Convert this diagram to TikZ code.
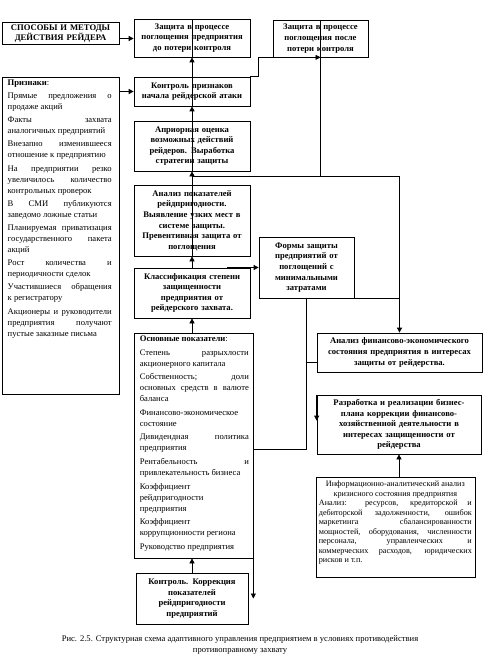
\documentclass[tikz,border=0pt]{standalone}
\usepackage{fontspec}
\setmainfont{Liberation Serif}
\usetikzlibrary{arrows.meta,calc}
\tikzset{
  box/.style={draw, line width=0.7pt, inner sep=2pt, align=center,
    font=\fontsize{8.6}{10.6}\selectfont\bfseries},
  plain/.style={inner sep=0pt, align=justify, font=\fontsize{8.6}{11}\selectfont},
  arr/.style={-{Triangle[width=5pt,length=5pt]}, line width=0.7pt},
  ln/.style={line width=0.7pt}
}
\newcommand\placebox[7][]{%
  \pgfmathsetmacro\bw{#5-#3}\pgfmathsetmacro\bh{#6-#4}%
  \pgfmathsetmacro\bcx{(#3+#5)/2}\pgfmathsetmacro\bcy{(#4+#6)/2}%
  \pgfmathsetmacro\btw{#5-#3-6}%
  \node[box,minimum width=\bw pt,minimum height=\bh pt,text width=\btw pt,#1] (#2) at (\bcx,\bcy) {#7};}
\begin{document}
\begin{tikzpicture}[x=1pt,y=-1pt]
\useasboundingbox[fill=white] (0,0) rectangle (483,666);

\placebox[line width=0.9pt]{b1}{2}{23}{119}{44}{СПОСОБЫ И МЕТОДЫ\\ДЕЙСТВИЯ РЕЙДЕРА}
\placebox{b2}{134}{19}{250}{57}{Защита в процессе\\поглощения предприятия\\до потери контроля}
\placebox{b3}{273}{20}{368}{57}{Защита в процессе\\поглощения после\\потери контроля}
\placebox[line width=0.9pt]{left}{2}{77}{119}{394}{}
\placebox{kp}{134}{77}{250}{106}{Контроль признаков\\начала рейдерской атаки}
\placebox{ap}{134}{121}{250}{171}{Априорная оценка\\возможных действий\\рейдеров. Выработка\\стратегии защиты}
\placebox{an}{134}{185}{250}{256}{Анализ показателей\\рейдпригодности.\\Выявление узких мест в\\системе защиты.\\Превентивная защита от\\поглощения}
\placebox{kl}{134}{268}{250}{318}{Классификация степени\\защищенности\\предприятия от\\рейдерского захвата.}
\placebox{fo}{259}{237}{354}{298}{Формы защиты\\предприятий от\\поглощений с\\минимальными\\затратами}
\placebox{af}{317}{333}{482}{372}{Анализ финансово-экономического\\состояния предприятия в интересах\\защиты от рейдерства.}
\placebox{rz}{317}{395}{481}{454}{Разработка и реализации бизнес-\\плана коррекции финансово-\\хозяйственной деятельности в\\интересах защищенности от\\рейдерства}
\placebox{osn}{134}{333}{253}{558}{}
\placebox{kk}{136}{573}{248}{624}{Контроль. Коррекция\\показателей\\рейдпригодности\\предприятий}
\placebox{inf}{316}{477}{475}{577}{}

\node[plain, anchor=north west, text width=104pt] (lefttxt) at ([xshift=6pt,yshift=-3pt]left.north west) {%
\setlength\parskip{2.2pt}%
\textbf{Признаки}:\par
Прямые предложения о\linebreak продаже акций\par
Факты захвата\linebreak аналогичных предприятий\par
Внезапно изменившееся\linebreak отношение к предприятию\par
На предприятии резко\linebreak увеличилось количество\linebreak контрольных проверок\par
В СМИ публикуются\linebreak заведомо ложные статьи\par
Планируемая приватизация\linebreak государственного пакета\linebreak акций\par
Рост количества и\linebreak периодичности сделок\par
Участившиеся обращения\linebreak к регистратору\par
Акционеры и руководители\linebreak предприятия получают\linebreak пустые заказные письма\par};

\node[plain, anchor=north west, text width=109pt] (osntxt) at ([xshift=6pt,yshift=-3pt]osn.north west) {%
\setlength\parskip{2.6pt}%
\textbf{Основные показатели}:\par
Степень разрыхлости\linebreak акционерного капитала\par
Собственность; доли\linebreak основных средств в валюте\linebreak баланса\par
Финансово-экономическое\\ состояние\par
Дивидендная политика\linebreak предприятия\par
Рентабельность и\linebreak привлекательность бизнеса\par
Коэффициент\\ рейдпригодности\\ предприятия\par
Коэффициент\\ коррупционности региона\par
Руководство предприятия\par};

\node[plain, anchor=north west, text width=153pt, font=\fontsize{8.2}{9.5}\selectfont] (inftxt) at ([xshift=3pt,yshift=-4pt]inf.north west) {%
{\centering Информационно-аналитический анализ\\ кризисного состояния предприятия\par}
Анализ: ресурсов, кредиторской и\linebreak дебиторской задолженности, ошибок\linebreak маркетинга сбалансированности\linebreak мощностей, оборудования, численности\linebreak персонала, управленческих и\linebreak коммерческих расходов, юридических\linebreak рисков и т.п.\par};

\node[align=center, font=\fontsize{8.6}{11}\selectfont] (cap) at (240,645) {Рис. 2.5. Структурная схема адаптивного управления предприятием в условиях противодействия\\противоправному захвату};

% connectors
\coordinate (a1) at ([yshift=-5pt]b1.east);
\draw[arr] (a1) -- (a1 -| b2.west);
\draw[arr] (kp.west -| left.east) -- (kp.west);

\draw[arr] (kl.north) -- (an.south);
\draw[arr] (an.south) -- (ap.south);
\draw[arr] (ap.south) -- (kp.south);
\draw[arr] (kp.south) -- (b2.south);
\draw[ln] (b2.south) -- (b2.north);

\coordinate (j1) at ($(ap.south)!0.36!(an.north)$);
\draw[arr] (j1) -| (af.north);
\draw[ln] (j1 -| b3.south) -- (b3.north);

\draw[arr] (kp.north east) -- ++(8,0) |- (b3.south);

\coordinate (k1) at ([xshift=-23pt]kl.north east);
\draw[arr] (k1 |- fo.west) -- (fo.west);

\draw[ln] (fo.south east) -- (fo.south east -| af.north);

\coordinate (c2) at ([yshift=-151pt]fo.south);
\draw[arr] (fo.south) -- (c2) -| (osn.east |- kk.east);
\coordinate (c3) at ([yshift=-10pt]af.west);
\draw[ln] (c3 -| fo.south) -- (c3);
\draw[arr] (rz.north west) -- ([yshift=-26pt]rz.north west);

\draw[arr] (kl.south |- osn.north) -- (kl.south);
\draw[arr] (kk.north) -- (kk.north |- osn.south);
\draw[arr] (rz.south |- inf.north) -- (rz.south);
\end{tikzpicture}
\end{document}
